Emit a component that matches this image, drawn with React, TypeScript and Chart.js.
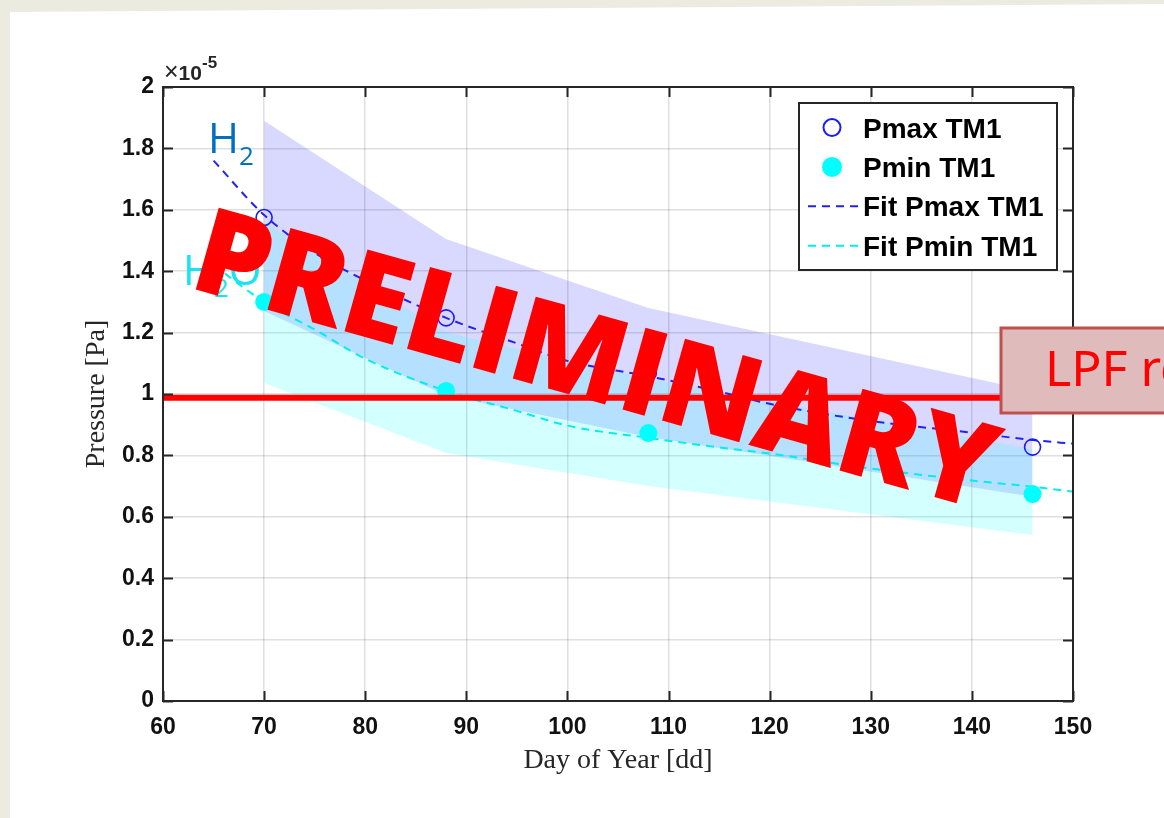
import React, { useEffect, useRef } from 'react';
import { Chart, registerables } from 'chart.js';

Chart.register(...registerables);

// Pressure values are in units of 1e-5 Pa (axis multiplier shown as ×10^-5).
const sampleDays = [70, 88, 108, 146];
const pmaxTM1 = [1.575, 1.248, 1.068, 0.827];
const pminTM1 = [1.3, 1.01, 0.873, 0.674];

// Uncertainty envelopes around the two measured series
const pmaxBandUpper = [1.89, 1.505, 1.28, 1.01];
const pmaxBandLower = [1.27, 0.995, 0.86, 0.665];
const pminBandUpper = [1.56, 1.2, 1.05, 0.82];
const pminBandLower = [1.036, 0.808, 0.7, 0.541];

// Fitted decay curves
const fitDays = [65, 70, 75, 80, 88, 95, 100, 108, 115, 120, 130, 140, 146, 150];
const fitPmaxTM1 = [1.76, 1.583, 1.46, 1.37, 1.248, 1.165, 1.108, 1.058, 1.008, 0.968, 0.912, 0.874, 0.85, 0.838];
const fitPminTM1 = [1.42, 1.3, 1.21, 1.115, 1.01, 0.945, 0.897, 0.857, 0.826, 0.806, 0.757, 0.718, 0.698, 0.682];

// LPF requirement level
const lpfRequirement = [0.988, 0.988];
const lpfDays = [60, 150];

const xRange = [60, 150];
const yRange = [0, 2];
const xStep = 10;
const yStep = 0.2;

const seriesLabels = ['Pmax TM1', 'Pmin TM1', 'Fit Pmax TM1', 'Fit Pmin TM1'];

const BLUE = '#1a1aff';
const CYAN = '#00ffff';
const AXIS = '#262626';
const TICK_FONT = "'Liberation Sans', Arial, sans-serif";
const SERIF = "'Liberation Serif', 'Times New Roman', serif";

const pts = (xs: number[], ys: number[]) => xs.map((x, i) => ({ x, y: ys[i] }));

// Box around the plot area with inward ticks on all four sides
const axisFrame = {
  id: 'axisFrame',
  afterDatasetsDraw(chart: any) {
    const { ctx, chartArea, scales } = chart;
    const { left, right, top, bottom } = chartArea;
    const x = scales.x;
    const y = scales.y;
    const len = 10;
    ctx.save();
    ctx.strokeStyle = AXIS;
    ctx.lineWidth = 2;
    ctx.strokeRect(left, top, right - left, bottom - top);
    ctx.beginPath();
    x.ticks.forEach((t: any) => {
      const px = Math.round(x.getPixelForValue(t.value)) + 0.5;
      ctx.moveTo(px, bottom);
      ctx.lineTo(px, bottom - len);
      ctx.moveTo(px, top);
      ctx.lineTo(px, top + len);
    });
    y.ticks.forEach((t: any) => {
      const py = Math.round(y.getPixelForValue(t.value)) + 0.5;
      ctx.moveTo(left, py);
      ctx.lineTo(left + len, py);
      ctx.moveTo(right, py);
      ctx.lineTo(right - len, py);
    });
    ctx.stroke();
    ctx.restore();
  },
};

function LegendBox() {
  const x0 = 799;
  const y0 = 103;
  const rowY = (i: number) => 127.5 + 39.4 * i;
  return (
    <g>
      <rect x={x0} y={y0} width={258} height={167} fill="#ffffff" stroke={AXIS} strokeWidth={2} />
      {seriesLabels.map((label, i) => {
        const cy = rowY(i);
        let symbol: React.ReactNode = null;
        if (i === 0) symbol = <circle cx={832} cy={cy} r={8.5} fill="none" stroke={BLUE} strokeWidth={2} />;
        if (i === 1) symbol = <circle cx={832} cy={cy} r={10} fill={CYAN} />;
        if (i === 2) symbol = <line x1={808} x2={858} y1={cy} y2={cy} stroke="#2323ee" strokeWidth={2} strokeDasharray="8 6" />;
        if (i === 3) symbol = <line x1={808} x2={858} y1={cy} y2={cy} stroke="#00eeee" strokeWidth={2} strokeDasharray="8 6" />;
        return (
          <g key={label}>
            {symbol}
            <text x={863} y={cy + 10} fontFamily={TICK_FONT} fontWeight="bold" fontSize={28} fill="#000">
              {label}
            </text>
          </g>
        );
      })}
    </g>
  );
}

export default function App() {
  const canvasRef = useRef<HTMLCanvasElement | null>(null);

  useEffect(() => {
    const canvas = canvasRef.current;
    if (!canvas) return;
    const chart = new Chart(canvas, {
      type: 'line',
      data: {
        datasets: [
          {
            label: 'Pmax band',
            data: pts(sampleDays, pmaxBandUpper),
            fill: '+1',
            backgroundColor: 'rgba(0,0,255,0.15)',
            borderColor: 'rgba(0,0,0,0)',
            borderWidth: 1,
            pointRadius: 0,
            tension: 0,
            order: 8,
          },
          {
            label: 'Pmax band lower',
            data: pts(sampleDays, pmaxBandLower),
            fill: false,
            borderColor: 'rgba(0,0,0,0)',
            borderWidth: 1,
            pointRadius: 0,
            tension: 0,
            order: 7,
          },
          {
            label: 'Pmin band',
            data: pts(sampleDays, pminBandUpper),
            fill: '+1',
            backgroundColor: 'rgba(0,255,255,0.17)',
            borderColor: 'rgba(0,0,0,0)',
            borderWidth: 1,
            pointRadius: 0,
            tension: 0,
            order: 6,
          },
          {
            label: 'Pmin band lower',
            data: pts(sampleDays, pminBandLower),
            fill: false,
            borderColor: 'rgba(0,0,0,0)',
            borderWidth: 1,
            pointRadius: 0,
            tension: 0,
            order: 5,
          },
          {
            label: seriesLabels[2],
            data: pts(fitDays, fitPmaxTM1),
            fill: false,
            borderColor: '#2323ee',
            borderWidth: 2,
            borderDash: [8, 6],
            pointRadius: 0,
            cubicInterpolationMode: 'monotone',
            order: 4,
          },
          {
            label: seriesLabels[3],
            data: pts(fitDays, fitPminTM1),
            fill: false,
            borderColor: '#00eeee',
            borderWidth: 2,
            borderDash: [8, 6],
            pointRadius: 0,
            cubicInterpolationMode: 'monotone',
            order: 3,
          },
          {
            label: seriesLabels[0],
            data: pts(sampleDays, pmaxTM1),
            showLine: false,
            pointRadius: 8,
            pointBorderWidth: 1.6,
            pointBorderColor: BLUE,
            pointBackgroundColor: 'rgba(0,0,0,0)',
            order: 2,
          },
          {
            label: seriesLabels[1],
            data: pts(sampleDays, pminTM1),
            showLine: false,
            pointRadius: 9,
            pointBorderWidth: 0,
            pointBorderColor: CYAN,
            pointBackgroundColor: CYAN,
            order: 1,
          },
          {
            label: 'LPF requirement',
            data: pts(lpfDays, lpfRequirement),
            fill: false,
            borderColor: '#ff0000',
            borderWidth: 6,
            pointRadius: 0,
            clip: 6,
            order: 0,
          },
        ],
      },
      options: {
        animation: false,
        responsive: false,
        devicePixelRatio: 1,
        layout: { padding: { left: 0, top: 87, right: 91, bottom: 0 } },
        plugins: {
          legend: { display: false },
          tooltip: { enabled: false },
        },
        scales: {
          x: {
            type: 'linear',
            min: xRange[0],
            max: xRange[1],
            ticks: {
              stepSize: xStep,
              padding: 13,
              color: '#111',
              font: { family: TICK_FONT, size: 23, weight: 'bold' },
            },
            grid: { color: 'rgba(38,38,38,0.15)', lineWidth: 1.5, drawTicks: false },
            border: { display: false },
            title: {
              display: true,
              text: 'Day of Year [dd]',
              color: AXIS,
              font: { family: SERIF, size: 28 },
              padding: { top: 0, bottom: 41 },
            },
            afterFit: (s: any) => {
              s.height = 117;
            },
          },
          y: {
            type: 'linear',
            min: yRange[0],
            max: yRange[1],
            ticks: {
              stepSize: yStep,
              padding: 9,
              color: '#111',
              font: { family: TICK_FONT, size: 23, weight: 'bold' },
              callback: (v: any) => String(+Number(v).toFixed(1)),
            },
            grid: { color: 'rgba(38,38,38,0.15)', lineWidth: 1.5, drawTicks: false },
            border: { display: false },
            title: {
              display: true,
              text: 'Pressure [Pa]',
              color: AXIS,
              font: { family: SERIF, size: 28 },
              padding: { top: 80, bottom: 0 },
            },
            afterFit: (s: any) => {
              s.width = 163;
            },
          },
        },
      },
      plugins: [axisFrame],
    } as any);
    return () => chart.destroy();
  }, []);

  return (
    <div
      style={{
        position: 'fixed',
        left: 0,
        top: 0,
        width: 1164,
        height: 818,
        overflow: 'hidden',
        background: '#ecebe0',
      }}
    >
      <div
        style={{
          position: 'absolute',
          inset: 0,
          background: '#ffffff',
          clipPath: 'polygon(10px 12px, 100% 4px, 100% 100%, 10px 100%)',
        }}
      />
      <canvas
        ref={canvasRef}
        width={1164}
        height={818}
        style={{ position: 'absolute', left: 0, top: 0, width: 1164, height: 818 }}
      />
      <svg
        width={1164}
        height={818}
        style={{ position: 'absolute', left: 0, top: 0, pointerEvents: 'none' }}
      >
        <text x={164} y={80} fontFamily={TICK_FONT} fontSize={21} fill={AXIS}>
          <tspan fontSize={25}>×</tspan>
          <tspan fontWeight="bold">10</tspan>
          <tspan fontWeight="bold" fontSize={17} dy={-12}>-5</tspan>
        </text>
        <text x={208} y={153} fontFamily="'Open Sans', sans-serif" fontSize={42} fill="#0070c0">
          H<tspan fontSize={26} dy={12}>2</tspan>
        </text>
        <text x={183} y={285} fontFamily="'Open Sans', sans-serif" fontSize={42} fill="#19e3f0">
          H<tspan fontSize={26} dy={12}>2</tspan>
          <tspan dy={-12}>O</tspan>
        </text>
        <LegendBox />
        <text
          transform="translate(187 287) rotate(15.7)"
          fontFamily="'Open Sans', sans-serif"
          fontWeight={800}
          fontSize={119}
          fill="#ff0000"
          textLength={827}
          lengthAdjust="spacingAndGlyphs"
        >
          PRELIMINARY
        </text>
        <rect x={1001} y={328} width={200} height={85} fill="#dfbcbb" stroke="#c0504d" strokeWidth={3} />
        <text x={1045} y={386} fontFamily="'Noto Sans', sans-serif" fontSize={50} fill="#ff0000">
          LPF requirement
        </text>
      </svg>
    </div>
  );
}
